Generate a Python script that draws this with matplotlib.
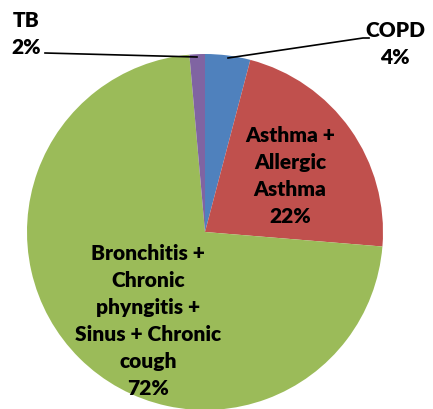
import matplotlib
matplotlib.use("Agg")
import matplotlib.pyplot as plt

categories = ["COPD", "Asthma + Allergic Asthma",
              "Bronchitis + Chronic phyngitis + Sinus + Chronic cough", "TB"]
values = [4.1, 22.2, 72.3, 1.4]
pct_labels = ["4%", "22%", "72%", "2%"]
label_text = ["COPD", "Asthma +\nAllergic\nAsthma",
              "Bronchitis +\nChronic\nphyngitis +\nSinus + Chronic\ncough", "TB"]
colors = ["#4F81BD", "#C0504D", "#9BBB59", "#8064A2"]

W, H = 433, 409
fig = plt.figure(figsize=(W / 100, H / 100), dpi=100)
ax = fig.add_axes([0, 0, 1, 1])
cx, cy, r = 205, H - 232, 178
ax.pie(values, colors=colors, startangle=90, counterclock=False,
       center=(cx, cy), radius=r, wedgeprops=dict(linewidth=0))
ax.set_xlim(0, W)
ax.set_ylim(0, H)
ax.set_aspect("equal")
ax.axis("off")

font = dict(family=["Lato", "DejaVu Sans"], fontweight="heavy", fontsize=15,
            color="black", ha="center", va="center", linespacing=1.5)

# label positions (in pixel layout coordinates, top-left origin)
pos = [(395, 44), (290, 176), (148, 321), (26, 34)]
for txt, pct, (x, y) in zip(label_text, pct_labels, pos):
    ax.text(x, H - y, f"{txt}\n{pct}", **font)

# leader lines
ax.plot([228, 363, 369], [H - 58, H - 38, H - 38], color="black", lw=1.2)
ax.plot([45, 197], [H - 53, H - 57], color="black", lw=1.2)

fig.savefig("out.png", dpi=100)
